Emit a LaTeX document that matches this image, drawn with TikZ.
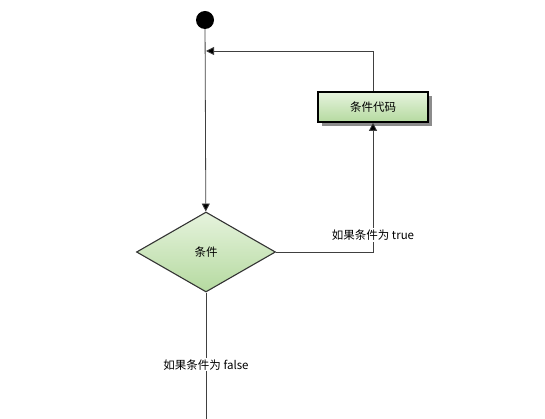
\documentclass[tikz,border=0pt]{standalone}
\usepackage{fontspec}
\newfontfamily\cjk{Noto Sans CJK SC}
\usetikzlibrary{shapes.geometric,arrows.meta,shadows}
\definecolor{gtop}{HTML}{E6F3DD}
\definecolor{gbot}{HTML}{B5DAA0}

\begin{document}
\begin{tikzpicture}[x=1pt,y=-1pt,
    every node/.style={font=\cjk\fontsize{11.5}{13}\selectfont},
    flow/.style={draw=black!75,line width=0.8pt,-{Triangle[length=8pt,width=8pt,fill=black]}},
    box/.style={draw,line width=1.6pt,minimum width=110pt,minimum height=30pt,inner sep=0,
      top color=gtop,bottom color=gbot,
      drop shadow={shadow xshift=4pt,shadow yshift=-4pt,fill=black!45,opacity=1}},
    decision/.style={diamond,draw=black!80,line width=1.1pt,minimum width=139pt,minimum height=80pt,
      inner sep=0,top color=gtop,bottom color=gbot},
    lbl/.style={fill=white,inner sep=1.5pt}]
  \useasboundingbox (0,0) rectangle (545,419);
  \node[fill,circle,minimum size=18pt,inner sep=0] (start) at (205,20) {};
  \node[decision] (cond) at (206,252) {条件};
  \node[box] (code) at (373,107) {条件代码};
  \coordinate (join) at (206,51);
  \coordinate (end) at (206,419);
  \draw[flow] (start) -- (cond);
  \draw[flow] (cond.east) -| node[lbl,pos=0.565] {如果条件为 true} (code.south);
  \draw[flow] (code.north) |- (join);
  \draw[draw=black!75,line width=0.8pt] (cond.south) -- node[lbl,pos=0.57] {如果条件为 false} (end);
\end{tikzpicture}
\end{document}
